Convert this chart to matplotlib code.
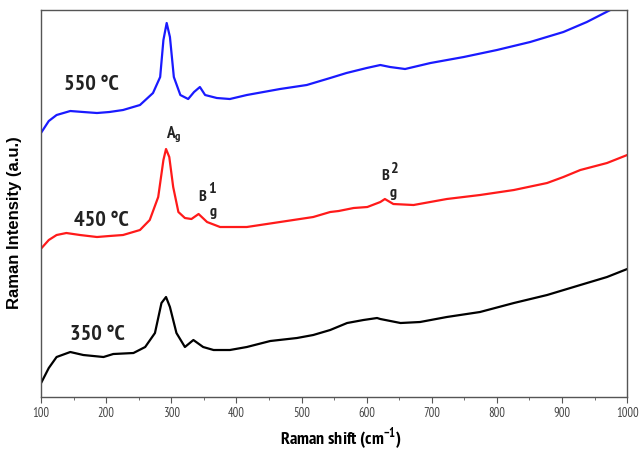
import numpy as np
import matplotlib.pyplot as plt

# Raman spectra (intensity in arbitrary units, curves offset)
x_350 = [101, 112, 124, 145, 165, 196, 211, 242, 260, 275, 285, 292, 298, 308, 321, 334, 349,
         365, 390, 416, 452, 493, 518, 544, 570, 595, 616, 621, 652, 682, 723, 774, 826, 877,
         928, 969, 1000]
y_350 = [16, 30, 41, 46, 43, 41, 44, 45, 51, 65, 95, 101, 91, 65, 51, 58, 51,
         48, 48, 51, 57, 60, 63, 68, 75, 78, 80, 79, 75, 76, 81, 86, 95, 103,
         113, 121, 129]

x_450 = [101, 112, 124, 139, 160, 186, 205, 226, 252, 267, 280, 288, 292, 297, 303, 311, 321,
         331, 342, 355, 375, 416, 467, 518, 544, 557, 580, 601, 621, 628, 641, 672, 723, 774,
         826, 877, 902, 928, 969, 1000]
y_450 = [150, 158, 163, 165, 163, 161, 162, 163, 168, 178, 201, 238, 249, 241, 211, 186, 180,
         179, 184, 176, 171, 171, 176, 181, 186, 187, 190, 191, 196, 199, 194, 193, 199, 203,
         208, 215, 221, 228, 235, 243]

x_550 = [101, 112, 124, 145, 165, 186, 205, 226, 252, 272, 283, 288, 293, 298, 304, 314, 326,
         335, 344, 352, 370, 390, 416, 467, 508, 544, 569, 600, 621, 636, 659, 698, 749, 800,
         851, 902, 938, 974, 1000]
y_550 = [266, 277, 283, 287, 286, 285, 286, 288, 293, 305, 321, 358, 375, 361, 321, 303, 299,
         306, 311, 303, 300, 299, 303, 309, 313, 320, 325, 330, 333, 331, 329, 335, 341, 348,
         356, 366, 376, 388, 398]

temps = ["350 °C", "450 °C", "550 °C"]
colors = ["black", "#ff1a1a", "#1a1aff"]

narrow = ['Liberation Sans Narrow', 'Arial Narrow', 'Nimbus Sans Narrow', 'PT Sans Narrow',
          'IBM Plex Sans Condensed', 'Barlow Semi Condensed', 'Liberation Sans', 'DejaVu Sans']
plt.rcParams['font.family'] = narrow

fig = plt.figure(figsize=(6.4, 4.53), dpi=100)
ax = fig.add_axes([0.064, 0.1236, 0.916, 0.8543])

for xs, ys, c in zip([x_350, x_450, x_550], [y_350, y_450, y_550], colors):
    ax.plot(xs, ys, color=c, lw=1.6)

ax.set_xlim(100, 1000)
ax.set_ylim(1, 388)
ax.set_xticks(np.arange(100, 1001, 100))
ax.set_xticks(np.arange(150, 1000, 100), minor=True)
ax.set_yticks([])
ax.tick_params(axis='x', which='both', direction='out', labelsize=9, labelcolor='#444444',
               color='#555555')
ax.tick_params(axis='x', which='major', length=4)
ax.tick_params(axis='x', which='minor', length=2.5)
for sp in ax.spines.values():
    sp.set_color('#555555')
    sp.set_linewidth(1.0)

ax.set_xlabel("Raman shift (cm$^{\\mathregular{-1}}$)", fontsize=13, fontweight='bold')
ax.xaxis.set_label_coords(0.512, -0.074)
ax.set_ylabel("Raman Intensity (a.u.)", fontsize=12, fontweight='bold',
              family=['Liberation Sans', 'DejaVu Sans'])
ax.yaxis.set_label_coords(-0.033, 0.45)

# temperature labels
lab = dict(fontsize=16, fontweight='bold', color='#222222', ha='center', va='center')
ax.text(177, 314, temps[2], **lab)
ax.text(192, 178, temps[1], **lab)
ax.text(186, 64, temps[0], **lab)

# mode labels
ax.text(304, 264, "$\\mathregular{A_g}$", fontsize=12.5, fontweight='bold', color='#222222',
        ha='center', va='center')
mode = dict(fontsize=11.5, fontweight='bold', color='#222222', ha='center', va='center')
ax.text(348, 201, "B", **mode)
ax.text(362, 209, "1", **mode)
ax.text(364, 186, "g", **mode)
ax.text(628, 222, "B", **mode)
ax.text(642, 229, "2", **mode)
ax.text(640, 205, "g", **mode)

fig.savefig("out.png", dpi=100)
